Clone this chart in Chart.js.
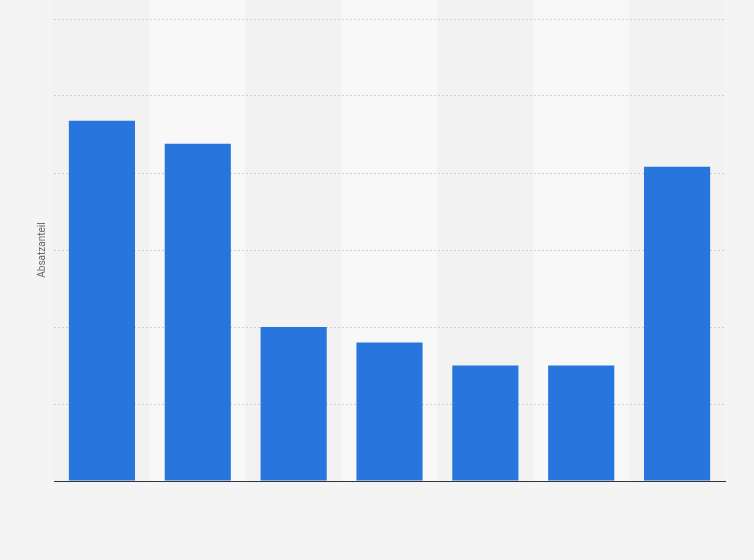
<!DOCTYPE html>
<html>
<head>
<meta charset="utf-8">
<script src="https://cdn.jsdelivr.net/npm/chart.js@4"></script>
<style>
  html, body { margin: 0; padding: 0; background: #f4f4f4; }
  #wrap { width: 754px; height: 560px; }
</style>
</head>
<body>
<div id="wrap"><canvas id="myChart"></canvas></div>
<script>
// categories are not labelled in the picture
const categories = ["1", "2", "3", "4", "5", "6", "7"];
const shares = [23.4, 21.9, 10, 9, 7.5, 7.5, 20.4];
const yMax = 30;
const yStep = 5;

// alternating column shading behind the bars
const bands = {
  id: "bands",
  beforeDraw(chart) {
    const { ctx, chartArea, scales } = chart;
    const x = scales.x;
    const w = x.width / categories.length;
    ctx.save();
    categories.forEach((c, i) => {
      ctx.fillStyle = i % 2 ? "#f8f8f8" : "#f2f2f2";
      ctx.fillRect(x.left + i * w, 0, w, chartArea.bottom);
    });
    ctx.restore();
  },
};

var ctx = document.getElementById("myChart").getContext("2d");
var myChart = new Chart(ctx, {
  type: "bar",
  data: {
    labels: categories,
    datasets: [
      {
        data: shares,
        backgroundColor: "#2876dd",
        barPercentage: 0.69,
        categoryPercentage: 1,
      },
    ],
  },
  options: {
    responsive: true,
    maintainAspectRatio: false,
    animation: false,
    layout: { padding: { left: 30, right: 29, top: 19, bottom: 79 } },
    plugins: {
      legend: { display: false },
      tooltip: { enabled: false },
    },
    scales: {
      x: {
        grid: { display: false, drawTicks: false },
        ticks: { display: false },
        border: { display: true, color: "#333333", width: 1 },
      },
      y: {
        min: 0,
        max: yMax,
        ticks: { display: false, stepSize: yStep },
        grid: { color: "#cfcfcf", drawTicks: false },
        border: { display: false, dash: [2, 2] },
        title: {
          display: true,
          text: "Absatzanteil",
          color: "#666666",
          font: { family: "Roboto", size: 10 },
          padding: { top: 6, bottom: 6 },
        },
      },
    },
  },
  plugins: [bands],
});
</script>
</body>
</html>
